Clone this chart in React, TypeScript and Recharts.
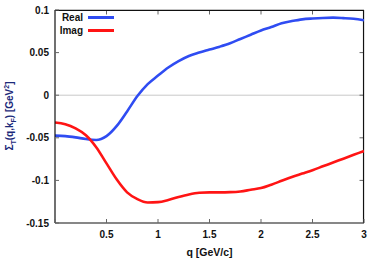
import React from 'react';
import { LineChart, Line, XAxis, YAxis, ReferenceLine } from 'recharts';

const qValues = [0, 0.1, 0.2, 0.3, 0.4, 0.5, 0.6, 0.7, 0.8, 0.9, 1.0, 1.1, 1.2, 1.3, 1.4, 1.5, 1.6, 1.7, 1.8, 1.9, 2.0, 2.1, 2.2, 2.3, 2.4, 2.5, 2.6, 2.7, 2.8, 2.9, 3.0];
const realValues = [-0.0475, -0.048, -0.0495, -0.0515, -0.0525, -0.048, -0.036, -0.019, -0.001, 0.013, 0.023, 0.0325, 0.04, 0.046, 0.05, 0.0535, 0.057, 0.061, 0.066, 0.071, 0.076, 0.08, 0.0845, 0.087, 0.089, 0.09, 0.0907, 0.091, 0.0905, 0.0897, 0.088];
const imagValues = [-0.032, -0.034, -0.039, -0.047, -0.061, -0.08, -0.099, -0.114, -0.122, -0.126, -0.1255, -0.123, -0.1195, -0.1165, -0.1145, -0.114, -0.114, -0.1138, -0.113, -0.111, -0.109, -0.105, -0.1005, -0.096, -0.092, -0.088, -0.0835, -0.079, -0.0745, -0.07, -0.0655];
const xTicks = [0, 0.5, 1, 1.5, 2, 2.5, 3];
const yTicks = [-0.15, -0.1, -0.05, 0, 0.05, 0.1];
const seriesNames = ['Real', 'Imag'];
const xMin = 0;
const xMax = 3;
const yMin = -0.15;
const yMax = 0.1;

const data = qValues.map((q, i) => ({ q, real: realValues[i], imag: imagValues[i] }));

const BLUE = '#2f4cf2';
const RED = '#ff1414';
const FONT = '"Liberation Sans", Arial, sans-serif';

// frame edges placed a hair inside the domain so they are not discarded
const xEdge = xMax - (xMax - xMin) * 0.0015;
const yEdge = yMax - (yMax - yMin) * 0.002;
const xTickLen = (xMax - xMin) * 0.013;
const yTickLen = (yMax - yMin) * 0.019;

const BottomTick = (props: any) => {
  const { x, y, payload } = props;
  return (
    <g>
      <line x1={x} x2={x} y1={y} y2={y - 4} stroke="#666" strokeWidth={1} />
      {payload.value !== 0 && (
        <text x={x} y={y + 15} textAnchor="middle" fontFamily={FONT} fontWeight="bold" fontSize={10} fill="#111">
          {payload.value}
        </text>
      )}
    </g>
  );
};

const LeftTick = (props: any) => {
  const { x, y, payload } = props;
  return (
    <g>
      <line x1={x} x2={x + 4} y1={y} y2={y} stroke="#666" strokeWidth={1} />
      <text x={x - 6} y={y + 3.5} textAnchor="end" fontFamily={FONT} fontWeight="bold" fontSize={10} fill="#111">
        {String(payload.value)}
      </text>
    </g>
  );
};

const LegendBox = () => (
  <div style={{ position: 'absolute', left: 57, top: 11, fontFamily: FONT, fontWeight: 'bold', fontSize: 10, color: '#111', lineHeight: '13px' }}>
    {seriesNames.map((n, i) => (
      <div key={n} style={{ display: 'flex', alignItems: 'center', height: 13 }}>
        <span style={{ width: 26, textAlign: 'right' }}>{n}</span>
        <span style={{ display: 'inline-block', width: 26, height: 2.5, background: i === 0 ? BLUE : RED, marginLeft: 5 }} />
      </div>
    ))}
  </div>
);

export default function App() {
  return (
    <div style={{ position: 'absolute', left: 0, top: 0, width: 381, height: 262, background: '#fff' }}>
      <LineChart width={381} height={262} data={data} margin={{ top: 10, right: 17, bottom: 0, left: 0 }}>
        <XAxis
          dataKey="q"
          type="number"
          domain={[xMin, xMax]}
          ticks={xTicks}
          tick={<BottomTick />}
          tickLine={false}
          tickSize={0}
          tickMargin={0}
          height={39}
          axisLine={{ stroke: '#111', strokeWidth: 1.2 }}
          allowDataOverflow
          label={{
            content: () => (
              <text x={209.5} y={256} textAnchor="middle" fontFamily={FONT} fontWeight="bold" fontSize={10.5} fill="#111">
                q [GeV/c]
              </text>
            ),
          }}
        />
        <YAxis
          type="number"
          domain={[yMin, yMax]}
          ticks={yTicks}
          tick={<LeftTick />}
          tickLine={false}
          tickSize={0}
          tickMargin={0}
          width={55}
          axisLine={{ stroke: '#111', strokeWidth: 1.2 }}
          allowDataOverflow
          label={{
            content: () => (
              <text
                x={13}
                y={116}
                transform="rotate(-90, 13, 116)"
                textAnchor="middle"
                fontFamily={FONT}
                fontWeight="bold"
                fontSize={10}
                fill="#1c2a7a"
              >
                <tspan>Σ</tspan>
                <tspan fontSize={7} dy={3}>T</tspan>
                <tspan dy={-3}>(q,k</tspan>
                <tspan fontSize={7} dy={3}>F</tspan>
                <tspan dy={-3}>) [GeV</tspan>
                <tspan fontSize={7} dy={-4}>2</tspan>
                <tspan dy={4}>]</tspan>
              </text>
            ),
          }}
        />
        <ReferenceLine y={0} stroke="#c8c8c8" strokeWidth={1} />
        {xTicks.slice(1, -1).map((t) => (
          <ReferenceLine
            key={'xt' + t}
            segment={[{ x: t, y: yEdge }, { x: t, y: yEdge - yTickLen }]}
            stroke="#666"
            strokeWidth={1}
          />
        ))}
        {yTicks.slice(1, -1).map((t) => (
          <ReferenceLine
            key={'yt' + t}
            segment={[{ x: xEdge, y: t }, { x: xEdge - xTickLen, y: t }]}
            stroke="#666"
            strokeWidth={1}
          />
        ))}
        <ReferenceLine x={xEdge} stroke="#111" strokeWidth={1.2} />
        <ReferenceLine y={yEdge} stroke="#111" strokeWidth={1.2} />
        <Line dataKey="real" name="Real" type="monotone" stroke={BLUE} strokeWidth={2.6} dot={false} isAnimationActive={false} />
        <Line dataKey="imag" name="Imag" type="monotone" stroke={RED} strokeWidth={2.6} dot={false} isAnimationActive={false} />
      </LineChart>
      <LegendBox />
    </div>
  );
}
